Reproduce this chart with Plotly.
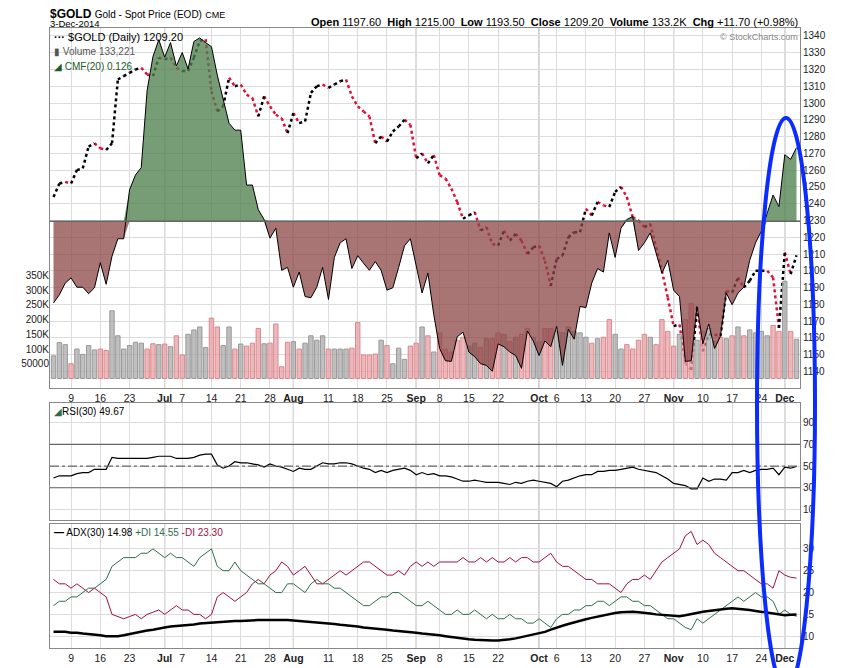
import plotly.graph_objects as go
import pandas as pd

# ---- data ----
holidays = ["2014-07-04", "2014-09-01", "2014-11-27"]
dates = [d for d in pd.bdate_range("2014-06-04", "2014-12-03") if d.strftime("%Y-%m-%d") not in holidays]
N = len(dates)

close = [1244,1252,1253,1252,1260,1261,1274,1276,1273,1272,1276,1314,1316,1318,1320,1321,1317,1316,1327,
         1326,1327,1321,1319,1319,1327,1337,1338,1307,1295,1298,1315,1310,1311,1305,1303,1292,1304,1298,1293,1291,1282,
         1294,1288,1289,1306,1310,1311,1309,1311,1313,1314,1304,1298,1295,1292,1276,1280,1277,1283,1286,1290,1287,
         1267,1270,1264,1269,1257,1255,1249,1241,1231,1233,1235,1224,1226,1216,1215,1224,1218,1222,1218,1210,1214,
         1215,1206,1191,1207,1209,1220,1223,1223,1237,1233,1241,1239,1238,1247,1250,1244,1232,1230,1226,1228,1214,1200,1184,
         1167,1168,1145,1141,1178,1152,1162,1162,1161,1188,1187,1196,1190,1194,1200,1200,1200,1196,1166,
         1211,1198,1209.2]

volume_k = [77,122,115,50,100,82,112,97,100,95,230,145,100,112,123,120,100,118,115,
            117,108,145,80,150,165,175,105,205,175,112,175,100,117,110,120,170,118,120,185,40,123,
            125,100,120,145,130,145,100,100,100,100,103,190,80,80,83,130,112,50,103,65,110,
            120,175,145,90,155,100,90,130,140,110,120,105,135,135,155,150,125,140,150,170,140,
            125,170,170,160,155,175,160,155,140,120,135,140,200,150,100,115,100,130,150,140,115,200,160,
            110,150,200,255,130,160,170,125,140,135,145,175,145,165,155,160,145,180,160,
            330,160,133.2]

cmf = [-.185,-.140,-.126,-.106,-.097,-.113,-.113,-.124,-.114,-.071,-.108,-.060,-.030,-.030,.054,.079,.092,.224,.282,.311,.281,
       .306,.266,.289,.261,.308,.314,.306,.299,.250,.207,.168,.156,.156,.062,.062,.020,.003,-.029,-.012,-.084,-.079,
       -.113,-.087,-.129,-.131,-.113,-.079,-.134,-.062,-.037,-.030,-.081,-.059,-.072,-.084,-.069,-.084,-.118,-.114,
       -.079,-.042,-.030,-.079,-.123,-.089,-.160,-.218,-.239,-.240,-.198,-.190,-.224,-.232,-.244,-.247,-.257,-.210,-.215,
       -.224,-.230,-.252,-.188,-.205,-.230,-.205,-.215,-.180,-.247,-.185,-.202,-.146,-.148,-.106,-.081,-.087,-.020,
       -.062,-.012,.003,.008,-.050,-.037,-.020,-.054,-.089,-.067,-.118,-.129,-.240,-.239,-.146,-.210,-.176,-.218,
       -.197,-.123,-.143,-.123,-.113,-.067,-.037,-.017,.013,.045,.025,.114,.106,.126]

rsi = [39,41,41,41,43,44,44,47,47,47,58,57,57,57,57,57,57,58,59,
       59,59,57,57,57,58,60,61,61,51,48,50,54,53,53,52,51,49,52,50,49,47,
       45,48,47,47,50,53,52,52,53,53,52,50,48,47,44,46,44,46,47,48,46,
       42,44,42,43,41,41,40,38,36,36,37,36,35,35,35,34,33,35,34,36,37,
       36,35,34,31,36,37,39,41,42,42,45,45,46,46,47,48,49,47,46,45,44,41,38,
       34,33,32,29,29,39,36,38,38,37,44,44,46,44,46,47,47,48,42,
       49,48,49.67]

minus_di = [23,22,22,21,22,21,20,21,20,19,15,14.5,14,14.5,15,14,15,15.5,16,
            15,16,17,16,16,15,15,14,15,19,20,19,18,19,20,22,23,22,24,25,27,26,
            24,25,26,24,22,22,23,24,25,24,25,26,27,27,26,25,24,24,25,24,26,
            27,26,27,26,27,27,27,27,28,27,27,28,27,28,27,27,28,27,28,28,27,
            27,28,29,27,26,26,25,24,23,23,22,22,22,21,20,22,23,23,24,23,25,27,28,
            29,30,33,34,31,32,31,29,28,27,26,25,25,24,23,22,22,21,25,
            24,23.5,23.3]

plus_di = [17,18,18,19,19,20,21,21,22,23,26,27,28,28,28,29,29,30,29,
           28,29,28,28,27,26,28,29,30,26,25,25,27,25,24,23,22,22,21,20,20,22,
           22,21,20,22,23,22,22,21,21,20,19,18,17,17,18,19,19,20,20,19,18,
           17,17,18,17,16,15,15,16,15,15,16,15,14,15,14,14,15,14,14,13,13,
           14,13,12,14,15,15,16,16,17,17,18,18,17,18,19,19,18,18,17,17,16,15,14,
           14,13,12,11.5,14,13,14,15,16,17,18,19,18,19,20,19,19,18,15,
           16,15,14.55]

adx = [11,11,11,10.8,10.8,10.6,10.5,10.3,10.2,10,10,10,10.2,10.5,10.8,11,11.3,11.5,11.8,
       12,12.2,12.3,12.5,12.6,12.7,12.9,13,13.2,13.3,13.3,13.4,13.5,13.5,13.6,13.6,13.7,13.7,13.7,13.8,13.7,13.7,
       13.6,13.5,13.4,13.3,13.2,13,12.9,12.8,12.6,12.5,12.4,12.2,12,11.9,11.8,11.6,11.5,11.3,11.2,11,10.9,
       10.8,10.6,10.5,10.3,10.2,10,9.8,9.6,9.4,9.3,9.2,9.1,9,9,9,9.1,9.3,9.5,9.8,10,10.3,
       10.6,11,11.5,12,12.4,12.8,13.2,13.5,13.9,14.2,14.5,14.8,15.1,15.3,15.5,15.6,15.6,15.5,15.4,15.2,15,14.9,14.8,
       14.7,14.6,14.8,15.1,15.4,15.6,15.8,16,16.2,16.3,16.4,16.3,16.2,16,15.8,15.6,15.4,15.2,14.9,
       14.8,14.9,14.98]

price_ticks = list(range(1140, 1341, 10))
vol_ticks = [50000, 100000, 150000, 200000, 250000, 300000, 350000]
vol_tick_text = ["50000", "100K", "150K", "200K", "250K", "300K", "350K"]

def xs(arr):
    n = min(len(arr), N)
    return list(range(N - n, N)), list(arr[-n:])

# ---- x ticks ----
month_idx = [i for i in range(1, N) if dates[i].month != dates[i - 1].month]
tickvals, ticktext = [], []
for i, d in enumerate(dates):
    if i in month_idx:
        tickvals.append(i); ticktext.append("<b>" + d.strftime("%b") + "</b>")
    elif d.weekday() == 0 and not any(0 < abs(m - i) <= 2 for m in month_idx):
        tickvals.append(i); ticktext.append(str(d.day))

fig = go.Figure()

xv, vv = xs(volume_k)
xc, cc = xs(close)
up = [True] + [cc[k] >= cc[k - 1] for k in range(1, len(cc))]
vcol = ["rgba(170,170,170,0.75)" if u else "rgba(230,160,170,0.75)" for u in up]
vline = ["#999" if u else "#d88" for u in up]
fig.add_trace(go.Bar(x=xv, y=[v * 1000 for v in vv], marker=dict(color=vcol, line=dict(color=vline, width=1)),
                     width=0.75, xaxis="x3", yaxis="y4", hoverinfo="skip"))

xm, mm = xs(cmf)
fig.add_trace(go.Scatter(x=xm, y=[max(v, 0) for v in mm], fill="tozeroy", fillcolor="rgba(80,130,80,0.78)",
                         line=dict(width=0), mode="lines", xaxis="x3", yaxis="y5", hoverinfo="skip"))
fig.add_trace(go.Scatter(x=xm, y=[min(v, 0) for v in mm], fill="tozeroy", fillcolor="rgba(140,70,70,0.75)",
                         line=dict(width=0), mode="lines", xaxis="x3", yaxis="y5", hoverinfo="skip"))
fig.add_trace(go.Scatter(x=xm, y=mm, mode="lines", line=dict(color="black", width=1), xaxis="x3", yaxis="y5"))

bx, by, rx, ry = [], [], [], []
for k in range(1, len(cc)):
    tx, ty = (bx, by) if cc[k] >= cc[k - 1] else (rx, ry)
    tx += [xc[k - 1], xc[k], None]; ty += [cc[k - 1], cc[k], None]
fig.add_trace(go.Scatter(x=rx, y=ry, mode="lines", line=dict(color="#e0103a", width=2.5, dash="dot"), xaxis="x3", yaxis="y3"))
fig.add_trace(go.Scatter(x=bx, y=by, mode="lines", line=dict(color="black", width=2.5, dash="dot"), xaxis="x3", yaxis="y3"))

xr, rr = xs(rsi)
fig.add_trace(go.Scatter(x=xr, y=rr, mode="lines", line=dict(color="black", width=1.2), xaxis="x2", yaxis="y2"))

for arr, col, w in [(minus_di, "#a01040", 1), (plus_di, "#2e6e4a", 1), (adx, "black", 2.5)]:
    xa, aa = xs(arr)
    fig.add_trace(go.Scatter(x=xa, y=aa, mode="lines", line=dict(color=col, width=w), xaxis="x", yaxis="y"))

shapes = []
for mi in month_idx:
    for xr_, yr in [("x3", "y3"), ("x2", "y2"), ("x", "y")]:
        shapes.append(dict(type="line", xref=xr_, yref=yr + " domain", x0=mi, x1=mi, y0=0, y1=1,
                           line=dict(color="#aaa", width=1.2), layer="below"))
for yv, dash in [(70, "solid"), (30, "solid"), (50, "dashdot")]:
    shapes.append(dict(type="line", xref="x2 domain", yref="y2", x0=0, x1=1, y0=yv, y1=yv,
                       line=dict(color="#666", width=1.2, dash=dash)))
shapes.append(dict(type="line", xref="x3 domain", yref="y5", x0=0, x1=1, y0=0, y1=0, line=dict(color="#666", width=1.5)))
def px(x): return (x - 50) / 750
def py(y): return (648 - y) / 620
shapes.append(dict(type="circle", xref="paper", yref="paper", x0=px(757), x1=px(815), y0=py(690), y1=py(118),
                   line=dict(color="#0a2cff", width=4)))

grid = "#dcdcdc"
tf = dict(size=10.5, family="Arial, Liberation Sans", color="#222")
xcommon = dict(range=[-0.6, N - 0.4], tickvals=tickvals, ticktext=ticktext, gridcolor=grid, showline=True,
               linecolor="#888", mirror=True, zeroline=False, tickfont=tf, ticks="", tickangle=0, automargin=False)
ycommon = dict(side="right", gridcolor=grid, showline=True, linecolor="#888", mirror=True, zeroline=False,
               tickfont=dict(size=10, family="Arial, Liberation Sans", color="#222"), automargin=False)
fig.update_layout(
    width=850, height=668, showlegend=False, plot_bgcolor="white", paper_bgcolor="white",
    margin=dict(l=42, r=58, t=20, b=28), bargap=0.2, shapes=shapes,
    xaxis=dict(**xcommon, anchor="y"),
    xaxis2=dict(**xcommon, showticklabels=False, anchor="y2", matches="x"),
    xaxis3=dict(**xcommon, anchor="y3", matches="x"),
    yaxis=dict(**ycommon, domain=[0, 0.2], range=[7.3, 35.7], tickvals=[10, 15, 20, 25, 30]),
    yaxis2=dict(**ycommon, domain=[0.206, 0.395], range=[0, 108], tickvals=[10, 30, 50, 70, 90]),
    yaxis3=dict(**ycommon, domain=[0.419, 1], range=[1130, 1344.7], tickvals=price_ticks),
    yaxis4=dict(overlaying="y3", range=[-33000, 1190000], side="left", tickvals=vol_ticks, ticktext=vol_tick_text,
                showgrid=False, zeroline=False, tickfont=dict(size=10, family="Arial, Liberation Sans", color="#222"),
                anchor="x3", automargin=False),
    yaxis5=dict(overlaying="y3", range=[-0.286, 0.331], visible=False),
)

F = "Arial, Liberation Sans"
fig.add_annotation(xref="paper", yref="paper", x=-0.003, y=1.032, xanchor="left", yanchor="top",
                   text="<b>$GOLD</b> <span style='font-size:10px'>Gold - Spot Price (EOD)</span> <span style='font-size:9px'>CME</span>",
                   showarrow=False, font=dict(size=12, family=F, color="black"), yshift=3)
fig.add_annotation(xref="paper", yref="paper", x=-0.003, y=1.0, xanchor="left", yanchor="bottom",
                   text="3-Dec-2014", showarrow=False, font=dict(size=9.5, family=F, color="black"), yshift=-3)
fig.add_annotation(xref="paper", yref="paper", x=1.0, y=1.0, xanchor="right", yanchor="bottom",
                   text="<b>Open</b> 1197.60  <b>High</b> 1215.00  <b>Low</b> 1193.50  <b>Close</b> 1209.20  <b>Volume</b> 133.2K  <b>Chg</b> +11.70 (+0.98%)",
                   showarrow=False, font=dict(size=11, family=F, color="black"), yshift=-2)
fig.add_annotation(xref="paper", yref="paper", x=1.0, y=0.997, xanchor="right", yanchor="top",
                   text="© StockCharts.com", showarrow=False, font=dict(size=9, family=F, color="#888"))
fig.add_annotation(xref="paper", yref="paper", x=0.003, y=0.999, xanchor="left", yanchor="top", align="left",
                   text="<b>···</b> $GOLD (Daily) 1209.20<br><span style='color:#555;font-size:10px'>▮ Volume 133,221</span><br><span style='color:#1d5a2a;font-size:10px'>◢ CMF(20) 0.126</span>",
                   showarrow=False, font=dict(size=11, family=F, color="black"))
fig.add_annotation(xref="paper", yref="paper", x=0.003, y=0.393, xanchor="left", yanchor="top",
                   text="<span style='color:#2e6e4a'>◢</span>RSI(30) 49.67", showarrow=False,
                   font=dict(size=10, family=F, color="black"))
fig.add_annotation(xref="paper", yref="paper", x=0.003, y=0.198, xanchor="left", yanchor="top",
                   text="<b>—</b> ADX(30) 14.98 <span style='color:#2e6e4a'>+DI 14.55</span> <span style='color:#a01040'>-DI 23.30</span>",
                   showarrow=False, font=dict(size=10, family=F, color="black"))

fig.write_html("out.html")
